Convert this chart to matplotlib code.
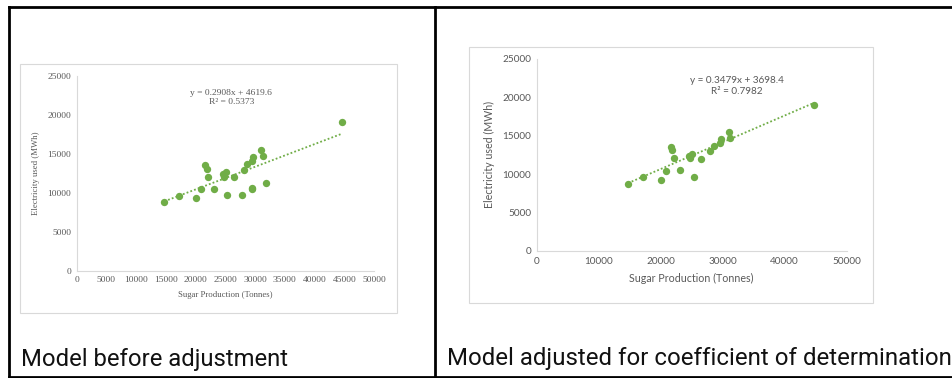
import matplotlib
matplotlib.use("Agg")
import matplotlib.pyplot as plt
from matplotlib.patches import Rectangle
from matplotlib.lines import Line2D

# sugar production (tonnes) vs electricity used (MWh)
sugar_all = [14742, 17152, 20123, 20908, 21637, 21917, 22141, 23150, 24608, 24720,
             25168, 25336, 26513, 27859, 28083, 28700, 29540, 29709, 29484, 29540,
             31054, 31278, 31895, 44619]
elec_all = [8776, 9632, 9289, 10445, 13527, 13099, 12072, 10488, 12372, 12072,
            12628, 9675, 11986, 9717, 12971, 13656, 14041, 14597, 10616, 10445,
            15497, 14683, 11258, 19049]

# outliers removed for the adjusted model
sugar_adj = [14731, 17097, 20108, 20914, 21613, 21882, 22097, 23118, 24516, 24677,
             25108, 25323, 26452, 28011, 28602, 29516, 29677, 31022, 31183, 44677]
elec_adj = [8752, 9619, 9272, 10442, 13518, 13085, 12045, 10485, 12348, 12088,
            12608, 9662, 12002, 12955, 13648, 14038, 14601, 15511, 14688, 19021]

fit_before = (0.2908, 4619.6)
fit_after = (0.3479, 3698.4)
eq_before = ["y = 0.2908x + 4619.6", "R\u00b2 = 0.5373"]
eq_after = ["y = 0.3479x + 3698.4", "R\u00b2 = 0.7982"]

x_ticks_before = list(range(0, 50001, 5000))
x_ticks_after = list(range(0, 50001, 10000))
y_ticks = list(range(0, 25001, 5000))

captions = ["Model before adjustment", "Model adjusted for coefficient of determination"]

GREEN = "#70AD47"
GREY = "#595959"
W, H = 952, 378


def box(x0, y0, x1, y1):
    # pixel coords, y measured from top
    return [x0 / W, 1 - y1 / H, (x1 - x0) / W, (y1 - y0) / H]


def draw_panel(fig, frame, ax_rect, xs, ys, fit, eq, xticks, font, fs, lfs, eq_pos):
    fig.add_artist(Rectangle(frame[:2], frame[2], frame[3], transform=fig.transFigure,
                             fill=False, edgecolor="#d9d9d9", lw=0.8))
    ax = fig.add_axes(ax_rect)
    ax.scatter(xs, ys, s=28, color=GREEN, zorder=3, linewidths=0)
    lo, hi = min(xs), max(xs)
    ax.plot([lo, hi], [fit[0] * lo + fit[1], fit[0] * hi + fit[1]],
            color=GREEN, ls=(0, (1, 1.2)), lw=1.3, zorder=2)
    ax.set_xlim(0, 50000)
    ax.set_ylim(0, 25000)
    ax.set_xticks(xticks)
    ax.set_yticks(y_ticks)
    for s in ["top", "right"]:
        ax.spines[s].set_visible(False)
    for s in ["left", "bottom"]:
        ax.spines[s].set_color("#d9d9d9")
        ax.spines[s].set_linewidth(0.8)
    ax.tick_params(length=0, labelsize=fs, labelcolor=GREY, pad=4)
    for lab in ax.get_xticklabels() + ax.get_yticklabels():
        lab.set_family(font)
    ax.set_xlabel("Sugar Production (Tonnes)", fontsize=lfs, color=GREY,
                  family=font, labelpad=5)
    ax.set_ylabel("Electricity used (MWh)", fontsize=lfs, color=GREY,
                  family=font, labelpad=5)
    ax.text(eq_pos[0], eq_pos[1], eq[0] + "\n" + eq[1], transform=ax.transAxes,
            ha="center", va="center", fontsize=fs, color=GREY, family=font,
            linespacing=1.2)
    return ax


fig = plt.figure(figsize=(W / 100, H / 100), dpi=100)

# outer frame and divider
lw = 2
fig.add_artist(Line2D([9 / W, 1], [1 - 7 / H, 1 - 7 / H], color="black", lw=lw,
                      transform=fig.transFigure))
fig.add_artist(Line2D([9 / W, 1], [1 - 376.5 / H, 1 - 376.5 / H], color="black", lw=lw,
                      transform=fig.transFigure))
fig.add_artist(Line2D([9 / W, 9 / W], [1 - 7 / H, 1 - 377 / H], color="black", lw=lw,
                      transform=fig.transFigure))
fig.add_artist(Line2D([435 / W, 435 / W], [1 - 7 / H, 1 - 377 / H], color="black", lw=lw,
                      transform=fig.transFigure))

draw_panel(fig, box(19.5, 64, 397, 313), box(76.7, 76, 374, 270.7),
           sugar_all, elec_all, fit_before, eq_before, x_ticks_before,
           "Liberation Serif", 6.8, 6.3, (0.52, 0.89))
draw_panel(fig, box(468.5, 46.7, 872.7, 302.7), box(536.7, 58.7, 846.7, 251),
           sugar_adj, elec_adj, fit_after, eq_after, x_ticks_after,
           "Lato", 7.2, 7.7, (0.645, 0.858))

fig.text(21 / W, 1 - 366 / H, captions[0], fontsize=17.2, family="Roboto",
         ha="left", va="baseline", color="#111111")
fig.text(447 / W, 1 - 365 / H, captions[1], fontsize=17.25, family="Roboto",
         ha="left", va="baseline", color="#111111")

fig.savefig("out.png", dpi=100)
